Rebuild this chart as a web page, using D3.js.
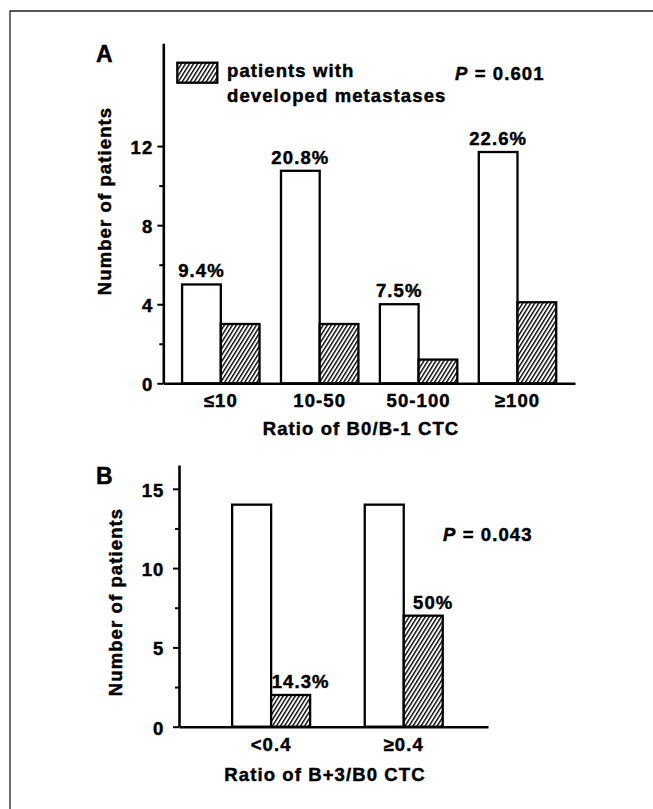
<!DOCTYPE html>
<html>
<head>
<meta charset="utf-8">
<script src="https://cdn.jsdelivr.net/npm/d3@7"></script>
<style>
  body { margin: 0; background: #fff; }
  text { font-family: "Liberation Sans", Arial, sans-serif; font-weight: bold; fill: #000;
         stroke: #000; stroke-width: 0.45px; }
</style>
</head>
<body>
<svg id="fig" width="653" height="809"></svg>
<script>
// panel A data
var groupsA = ['≤10', '10-50', '50-100', '≥100']
var allA = [5, 10.75, 4, 11.7]
var metA = [3, 3, 1.2, 4.1]
var pctA = ['9.4%', '20.8%', '7.5%', '22.6%']
var ticksA = [0, 4, 8, 12]
var minorA = [2, 6, 10]

// panel B data
var groupsB = ['<0.4', '≥0.4']
var allB = [14, 14]
var metB = [2, 7]
var pctB = ['14.3%', '50%']
var ticksB = [0, 5, 10, 15]
var minorB = [2.5, 7.5, 12.5]

var svg = d3.select('#fig')
var fs = 18.5, ls = '1.1px'

// hatch pattern for "developed metastases" bars
var pat = svg.append('defs').append('pattern')
    .attr('id', 'hatch')
    .attr('patternUnits', 'userSpaceOnUse')
    .attr('width', 3.4)
    .attr('height', 10)
    .attr('patternTransform', 'rotate(32)')
pat.append('rect').attr('width', 3.4).attr('height', 10).attr('fill', '#fff')
pat.append('line')
    .attr('x1', 0.7).attr('y1', 0).attr('x2', 0.7).attr('y2', 10)
    .attr('stroke', '#000').attr('stroke-width', 1.4)

// frame (open at right and bottom)
svg.append('path')
    .attr('d', 'M10,809V11H653')
    .attr('fill', 'none')
    .attr('stroke', '#222')
    .attr('stroke-width', 1.3)

function drawPanel(cfg) {
  var g = svg.append('g')
  var y = d3.scaleLinear().domain([0, cfg.yMax]).range([cfg.bottom, cfg.top])
  var x0 = d3.scaleBand().domain(cfg.groups)
      .range([cfg.left, cfg.right])
      .paddingInner(cfg.padIn).paddingOuter(cfg.padOut).align(cfg.align)
  var x1 = d3.scaleBand().domain(['all', 'met']).range([0, x0.bandwidth()])

  var rows = cfg.groups.map(function (k, i) {
    return { key: k, all: cfg.all[i], met: cfg.met[i], pct: cfg.pct[i] }
  })

  // bars
  var grp = g.selectAll('.grp').data(rows).enter().append('g')
      .attr('class', 'grp')
      .attr('transform', function (d) { return 'translate(' + x0(d.key) + ',0)' })
  grp.selectAll('rect')
      .data(function (d) { return [{ s: 'all', v: d.all }, { s: 'met', v: d.met }] })
      .enter().append('rect')
      .attr('x', function (d) { return x1(d.s) })
      .attr('y', function (d) { return y(d.v) })
      .attr('width', x1.bandwidth())
      .attr('height', function (d) { return y(0) - y(d.v) })
      .attr('fill', function (d) { return d.s === 'met' ? 'url(#hatch)' : '#fff' })
      .attr('stroke', '#000')
      .attr('stroke-width', 2.3)

  // percent labels
  grp.append('text')
      .attr('x', function (d) { return x1(cfg.pctOn) + x1.bandwidth() / 2 + cfg.pctDx })
      .attr('y', function (d) { return y(d[cfg.pctOn]) - 7 })
      .attr('text-anchor', 'middle')
      .style('font-size', fs + 'px')
      .style('letter-spacing', ls)
      .text(function (d) { return d.pct })

  // x axis
  var xa = g.append('g')
      .attr('transform', 'translate(0,' + y(0) + ')')
      .call(d3.axisBottom(x0).tickSize(0).tickSizeOuter(0).tickPadding(cfg.xPad))
  xa.select('.domain').attr('stroke', '#000').attr('stroke-width', 2.6)
  xa.selectAll('text').style('font-size', fs + 'px').style('letter-spacing', ls)
      .attr('dy', '0.68em').attr('font-family', null)

  // y axis
  var ya = g.append('g')
      .attr('transform', 'translate(' + cfg.left + ',0)')
      .call(d3.axisLeft(y).tickValues(cfg.ticks).tickSize(6).tickSizeOuter(0).tickPadding(cfg.yPad))
  ya.select('.domain').attr('stroke', '#000').attr('stroke-width', 2.6)
  ya.selectAll('line').attr('stroke', '#000').attr('stroke-width', 2)
  ya.selectAll('text').style('font-size', fs + 'px').style('letter-spacing', ls)
      .attr('dy', '0.4em').attr('font-family', null)

  var ym = g.append('g')
      .attr('transform', 'translate(' + cfg.left + ',0)')
      .call(d3.axisLeft(y).tickValues(cfg.minor).tickSize(4).tickFormat(''))
  ym.select('.domain').remove()
  ym.selectAll('line').attr('stroke', '#000').attr('stroke-width', 2)

  // axis titles
  g.append('text')
      .attr('transform', 'translate(' + cfg.yTitleX + ',' + cfg.yTitleY + ') rotate(-90)')
      .attr('text-anchor', 'middle')
      .style('font-size', fs + 'px')
      .style('letter-spacing', ls)
      .text('Number of patients')
  g.append('text')
      .attr('x', cfg.xTitleX)
      .attr('y', cfg.xTitleY)
      .attr('text-anchor', 'middle')
      .style('font-size', fs + 'px')
      .style('letter-spacing', ls)
      .text(cfg.xTitle)

  // panel letter
  g.append('text')
      .attr('x', 96)
      .attr('y', cfg.letterY)
      .style('font-size', '23px')
      .text(cfg.letter)

  // P value
  var p = g.append('text')
      .attr('x', cfg.pX)
      .attr('y', cfg.pY)
      .style('font-size', fs + 'px')
      .style('letter-spacing', ls)
  p.append('tspan').style('font-style', 'italic').text('P')
  p.append('tspan').text(' = ' + cfg.pVal)

  return g
}

drawPanel({
  groups: groupsA, all: allA, met: metA, pct: pctA, ticks: ticksA, minor: minorA,
  yMax: 17.2, top: 43.3, bottom: 383.3, left: 163.3, right: 575,
  padIn: 0.217, padOut: 0.19, align: 0.5,
  pctOn: 'all', pctDx: 0,
  xPad: 11, yPad: 4, yTitleX: 111, yTitleY: 201, xTitleX: 361, xTitleY: 435,
  xTitle: 'Ratio of B0/B-1 CTC', letter: 'A', letterY: 62,
  pX: 455, pY: 80, pVal: '0.601'
})

drawPanel({
  groups: groupsB, all: allB, met: metB, pct: pctB, ticks: ticksB, minor: minorB,
  yMax: 16.5, top: 465, bottom: 726.7, left: 179, right: 488,
  padIn: 0.412, padOut: 0.371, align: 0.54,
  pctOn: 'met', pctDx: 10,
  xPad: 12, yPad: 8.5, yTitleX: 122, yTitleY: 602, xTitleX: 325, xTitleY: 781,
  xTitle: 'Ratio of B+3/B0 CTC', letter: 'B', letterY: 483.5,
  pX: 443, pY: 540.7, pVal: '0.043'
})

// legend
var leg = svg.append('g')
leg.append('rect')
    .attr('x', 177.3).attr('y', 62.7)
    .attr('width', 40).attr('height', 20)
    .attr('fill', 'url(#hatch)')
    .attr('stroke', '#000')
    .attr('stroke-width', 2.3)
leg.selectAll('text')
    .data(['patients with', 'developed metastases'])
    .enter().append('text')
    .attr('x', 227)
    .attr('y', function (d, i) { return 76.7 + i * 25.3 })
    .style('font-size', fs + 'px')
    .style('letter-spacing', ls)
    .text(function (d) { return d })
</script>
</body>
</html>
